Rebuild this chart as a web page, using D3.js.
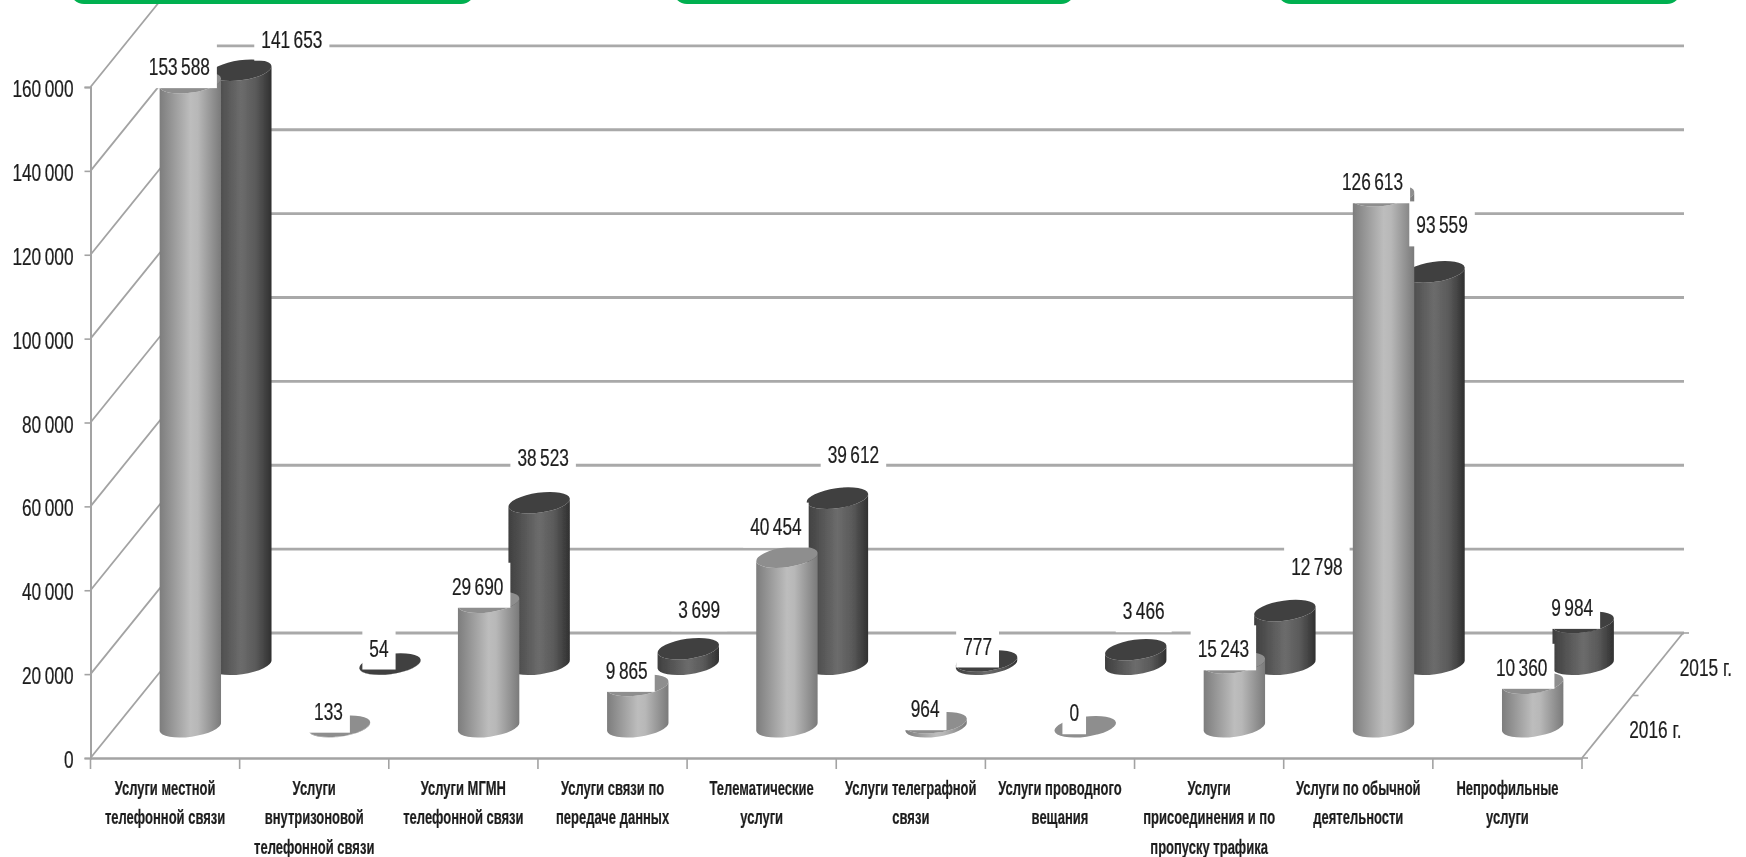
<!DOCTYPE html>
<html>
<head>
<meta charset="utf-8">
<script src="https://d3js.org/d3.v7.min.js"></script>
<style>
  html, body { margin: 0; padding: 0; background: #fff; overflow: hidden; }
  text { font-family: "Liberation Sans Narrow", "Liberation Sans", sans-serif; fill: #1f1f1f; stroke: #1f1f1f; stroke-width: 0.25; }
</style>
</head>
<body>
<script>
// chart values
var categories = [
  ["Услуги местной", "телефонной связи"],
  ["Услуги", "внутризоновой", "телефонной связи"],
  ["Услуги МГМН", "телефонной связи"],
  ["Услуги связи по", "передаче данных"],
  ["Телематические", "услуги"],
  ["Услуги телеграфной", "связи"],
  ["Услуги проводного", "вещания"],
  ["Услуги", "присоединения и по", "пропуску трафика"],
  ["Услуги по обычной", "деятельности"],
  ["Непрофильные", "услуги"]
];
var series = ["2016 г.", "2015 г."];
var values2016 = [153588, 133, 29690, 9865, 40454, 964, 0, 15243, 126613, 10360];
var values2015 = [141653, 54, 38523, 3699, 39612, 777, 3466, 12798, 93559, 9984];
var yTicks = [0, 20000, 40000, 60000, 80000, 100000, 120000, 140000, 160000];

// where the data labels sit relative to the top of their cylinder
var labelDx2016 = [-11, -11, -11, -11, -11, -11, -11, -11, -11, -11];
var labelDy2016 = [-17, -16, -17, -16, -32, -15, -15, -15, -15, -17];
var labelDx2015 = [51, -11, 4, 11, 16, -9, 8, 32, 8, -11];
var labelDy2015 = [-32, -17, -46, -40, -45, -16, -40, -45, -48, -16];

var width = 1746, height = 857;
var depthX = 101, depthY = 125;   // how far the back wall is pushed from the front
var rx = 31, ry = 10, tilt = -8;  // cylinder ellipse
var squeeze = 0.72;               // numbers are tall and narrow

var svg = d3.select("body").append("svg")
  .attr("width", width)
  .attr("height", height)
  .style("display", "block");

var defs = svg.append("defs");
defs.append("filter").attr("id", "soft")
  .attr("x", "-2%").attr("y", "-2%").attr("width", "104%").attr("height", "104%")
  .append("feGaussianBlur").attr("stdDeviation", 0.7);

function gradient(id, stops) {
  var g = defs.append("linearGradient").attr("id", id);
  stops.forEach(function(s) {
    g.append("stop").attr("offset", s[0]).attr("stop-color", s[1]);
  });
}
gradient("body2016", [[0, "#7d7d7d"], [0.5, "#bdbdbd"], [0.62, "#b8b8b8"], [1, "#7a7a7a"]]);
gradient("body2015", [[0, "#3f3f3f"], [0.5, "#6c6c6c"], [0.75, "#595959"], [1, "#303030"]]);

// scales
var x = d3.scaleBand().domain(d3.range(categories.length)).range([90.5, 1582]);
var y = d3.scaleLinear().domain([0, 160000]).range([758, 87]);
var depth = d3.scaleBand().domain(series).range([0, 1]);

var fmt = d3.formatLocale({ decimal: ",", thousands: "\u2009", grouping: [3], currency: ["", ""] }).format(",");

var chart = svg.append("g").attr("filter", "url(#soft)");

// walls: horizontals on the back, diagonals on the side
var grid = chart.append("g");
grid.selectAll(".back").data(yTicks).enter().append("line")
  .attr("x1", x.range()[0] + depthX)
  .attr("x2", x.range()[1] + depthX + 1)
  .attr("y1", function(d) { return y(d) - depthY; })
  .attr("y2", function(d) { return y(d) - depthY; })
  .attr("stroke", "#a9a9a9")
  .attr("stroke-width", 2.8);
grid.selectAll(".side").data(yTicks).enter().append("line")
  .attr("x1", x.range()[0])
  .attr("x2", x.range()[0] + depthX)
  .attr("y1", function(d) { return y(d); })
  .attr("y2", function(d) { return y(d) - depthY; })
  .attr("stroke", "#a3a3a3")
  .attr("stroke-width", 1.8);

// floor edge on the right with the series axis
grid.append("line")
  .attr("x1", x.range()[1]).attr("y1", y(0))
  .attr("x2", x.range()[1] + depthX).attr("y2", y(0) - depthY)
  .attr("stroke", "#a3a3a3").attr("stroke-width", 1.8);
grid.selectAll(".dtick").data([0, 0.5, 1]).enter().append("line")
  .attr("x1", function(t) { return x.range()[1] + t * depthX; })
  .attr("x2", function(t) { return x.range()[1] + t * depthX + 6; })
  .attr("y1", function(t) { return y(0) - t * depthY; })
  .attr("y2", function(t) { return y(0) - t * depthY; })
  .attr("stroke", "#a3a3a3").attr("stroke-width", 1.6);

// y axis
var yAxis = chart.append("g")
  .attr("transform", "translate(" + x.range()[0] + ",0)")
  .call(d3.axisLeft(y).tickValues(yTicks).tickSize(6).tickFormat(fmt));
yAxis.select(".domain").attr("stroke", "#a3a3a3").attr("stroke-width", 2);
yAxis.selectAll(".tick line").attr("stroke", "#a3a3a3").attr("stroke-width", 1.6);
yAxis.selectAll(".tick text")
  .attr("x", 0).attr("dy", null)
  .attr("dominant-baseline", "central")
  .attr("font-size", 24)
  .attr("transform", "translate(-17,1) scale(" + squeeze + ",1)");

// x axis, labels in the band centres, ticks on the band edges
var xAxis = chart.append("g")
  .attr("transform", "translate(0," + y(0) + ")")
  .call(d3.axisBottom(x).tickSize(0).tickFormat(""));
xAxis.select(".domain").attr("stroke", "#a3a3a3").attr("stroke-width", 2.4);
xAxis.selectAll(".edge").data(d3.range(categories.length + 1)).enter().append("line")
  .attr("x1", function(i) { return x.range()[0] + i * x.step(); })
  .attr("x2", function(i) { return x.range()[0] + i * x.step(); })
  .attr("y1", 0).attr("y2", 11)
  .attr("stroke", "#a3a3a3").attr("stroke-width", 1.6);

var catLabel = xAxis.selectAll(".cat").data(categories).enter().append("g")
  .attr("transform", function(d, i) { return "translate(" + (x(i) + x.bandwidth() / 2) + ",0)"; });
catLabel.selectAll("text").data(function(d) { return d; }).enter().append("text")
  .attr("text-anchor", "middle")
  .attr("dominant-baseline", "central")
  .attr("font-size", 20)
  .attr("font-weight", "bold")
  .attr("transform", function(d, i) { return "translate(0," + (30 + i * 29.5) + ") scale(.65,1)"; })
  .text(function(d) { return d; });

// series names at the right end of the floor
chart.selectAll(".sname").data(series).enter().append("text")
  .attr("dominant-baseline", "central")
  .attr("font-size", 24)
  .attr("transform", function(d) {
    var t = depth(d) + depth.bandwidth() / 2;
    return "translate(" + (x.range()[1] + t * depthX + 22) + "," + (y(0) - t * depthY + 3) + ") scale(" + squeeze + ",1)";
  })
  .text(function(d) { return d; });

// a cylinder standing on the floor
function ends(cx, cy) {
  var a = tilt * Math.PI / 180;
  return { x: cx - rx * Math.cos(a), yl: cy - rx * Math.sin(a), x2: cx + rx * Math.cos(a), yr: cy + rx * Math.sin(a) };
}
function barPath(cx, base, top) {
  var b = ends(cx, base), t = ends(cx, top);
  var arc = "A" + rx + " " + ry + " " + tilt + " 0 ";
  return "M" + t.x + "," + t.yl + "L" + b.x + "," + b.yl + arc + "0 " + b.x2 + "," + b.yr +
    "L" + t.x2 + "," + t.yr + arc + "1 " + t.x + "," + t.yl + "Z";
}
function project(serie, i, v) {
  var t = depth(serie) + depth.bandwidth() / 2;
  var shift = y(0) - y(v);
  return {
    cx: x(i) + x.bandwidth() / 2 + t * depthX,
    base: y(0) - t * depthY,
    top: y(0) - t * depthY - shift
  };
}

function drawSeries(serie, values, bodyId, topColor) {
  var g = chart.append("g").selectAll("g").data(values).enter().append("g");
  g.append("path")
    .attr("d", function(d, i) { var p = project(serie, i, d); return barPath(p.cx, p.base, p.top); })
    .attr("fill", "url(#" + bodyId + ")");
  g.append("ellipse")
    .attr("rx", rx).attr("ry", ry)
    .attr("transform", function(d, i) {
      var p = project(serie, i, d);
      return "translate(" + p.cx + "," + p.top + ") rotate(" + tilt + ")";
    })
    .attr("fill", topColor);
}
drawSeries(series[1], values2015, "body2015", "#414141");
drawSeries(series[0], values2016, "body2016", "#8e8e8e");

// data labels with their white boxes go over everything
function drawLabels(serie, values, dxs, dys) {
  var g = chart.append("g").selectAll("g").data(values).enter().append("g")
    .attr("transform", function(d, i) {
      var p = project(serie, i, d);
      return "translate(" + (p.cx + dxs[i]) + "," + (p.top + dys[i]) + ")";
    });
  var rect = g.append("rect").attr("fill", "#fff");
  var txt = g.append("text")
    .attr("text-anchor", "middle")
    .attr("dominant-baseline", "central")
    .attr("y", 1)
    .attr("font-size", 24)
    .attr("transform", "scale(" + squeeze + ",1)")
    .text(function(d) { return fmt(d); });
  rect.each(function(d, i) {
    var w = txt.nodes()[i].getComputedTextLength() * squeeze + 14;
    d3.select(this).attr("x", -w / 2).attr("width", w).attr("y", -22.5).attr("height", 45);
  });
}
drawLabels(series[1], values2015, labelDx2015, labelDy2015);
drawLabels(series[0], values2016, labelDx2016, labelDy2016);

// green headers cut off by the top of the slide
var headers = [[70, 475], [673, 1075], [1277, 1681]];
svg.selectAll(".header").data(headers).enter().append("rect")
  .attr("x", function(d) { return d[0]; })
  .attr("y", -30)
  .attr("width", function(d) { return d[1] - d[0]; })
  .attr("height", 34)
  .attr("rx", 14)
  .attr("fill", "#00b050");
</script>
</body>
</html>
